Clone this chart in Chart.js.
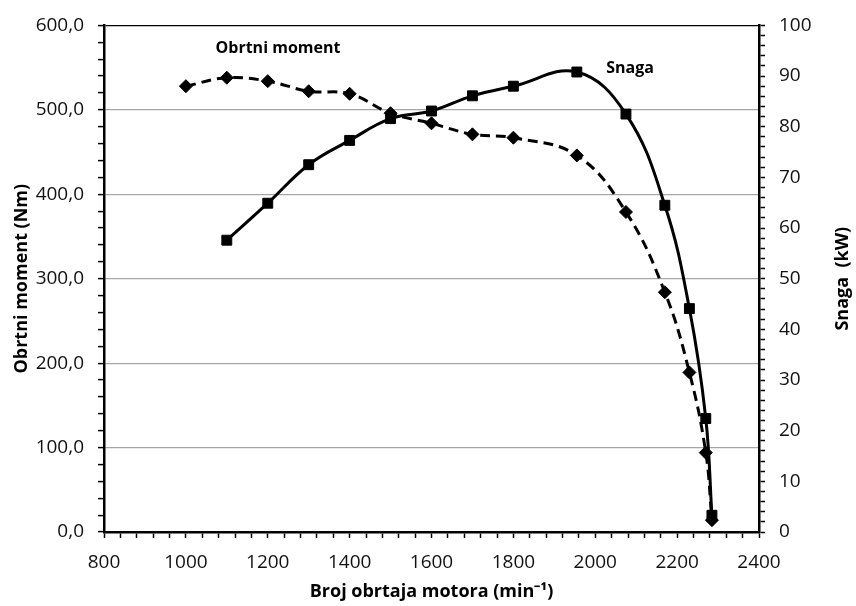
<!DOCTYPE html>
<html>
<head>
<meta charset="utf-8">
<script src="https://cdn.jsdelivr.net/npm/chart.js@4.4.0/dist/chart.umd.min.js"></script>
<style>
  html, body { margin: 0; padding: 0; background: #fff; }
  #wrap { width: 856px; height: 606px; }
</style>
</head>
<body>
<div id="wrap"><canvas id="myChart"></canvas></div>
<script>
// engine speed (min-1) and measured values
const rpmTorque = [1000, 1100, 1200, 1300, 1400, 1500, 1600, 1700, 1800, 1955, 2075, 2170, 2230, 2270, 2285];
const torque    = [528, 538, 534, 522, 519, 496, 484, 471, 467, 446, 379, 284, 189, 94, 14];
const rpmPower  = [1100, 1200, 1300, 1400, 1500, 1600, 1700, 1800, 1955, 2075, 2170, 2230, 2270, 2285];
const power     = [57.6, 64.9, 72.5, 77.3, 81.6, 83.1, 86.1, 88.0, 90.8, 82.5, 64.5, 44.1, 22.4, 3.3];

// curve names written next to the lines (rpm, value on own axis)
const curveNames = ['Obrtni moment', 'Snaga'];
const nameRpm = [1225, 2085];
const nameVal = [573, 91.6];

const powerTitle = 'Snaga  (kW)';

const toPoints = (xs, ys) => xs.map((x, i) => ({x: x, y: ys[i]}));

const tickFont = {family: '"Open Sans", sans-serif', size: 19};
const titleFont = {family: '"Open Sans", sans-serif', size: 18, weight: 'bold'};

const curveNamePlugin = {
  id: 'curveNames',
  afterDatasetsDraw(chart) {
    const {ctx, scales, chartArea} = chart;
    ctx.save();
    ctx.font = 'bold 16px "Open Sans", sans-serif';
    ctx.fillStyle = '#000';
    ctx.textAlign = 'center';
    ctx.textBaseline = 'middle';
    ctx.fillText(curveNames[0], scales.x.getPixelForValue(nameRpm[0]), scales.yT.getPixelForValue(nameVal[0]));
    ctx.fillText(curveNames[1], scales.x.getPixelForValue(nameRpm[1]), scales.yP.getPixelForValue(nameVal[1]));

    // right axis title reads bottom-to-top like the left one
    ctx.font = 'bold 18px "Open Sans", sans-serif';
    ctx.translate(scales.yP.right - 13, (chartArea.top + chartArea.bottom) / 2);
    ctx.rotate(-Math.PI / 2);
    ctx.fillText(powerTitle, 0, 0);
    ctx.restore();
  }
};

const ctx = document.getElementById('myChart');

new Chart(ctx, {
  type: 'line',
  data: {
    datasets: [{
      label: 'Obrtni moment',
      data: toPoints(rpmTorque, torque),
      yAxisID: 'yT',
      borderColor: '#000',
      backgroundColor: '#000',
      borderWidth: 3,
      borderDash: [10, 6],
      tension: 0.4,
      pointStyle: 'rectRot',
      pointRadius: 6.5,
      pointBorderWidth: 1
    },
    {
      label: 'Snaga',
      data: toPoints(rpmPower, power),
      yAxisID: 'yP',
      borderColor: '#000',
      backgroundColor: '#000',
      borderWidth: 3,
      tension: 0.4,
      pointStyle: 'rect',
      pointRadius: 7,
      pointBorderWidth: 1
    }]
  },
  options: {
    responsive: true,
    maintainAspectRatio: false,
    animation: false,
    layout: { padding: { top: 22, left: 0, right: 0, bottom: 0 } },
    plugins: {
      legend: { display: false },
      tooltip: { enabled: false }
    },
    scales: {
      x: {
        type: 'linear',
        min: 800,
        max: 2400,
        ticks: {
          stepSize: 40,
          autoSkip: false,
          maxRotation: 0,
          padding: 13,
          color: '#111',
          font: tickFont,
          callback: (v) => v % 200 === 0 ? v : ''
        },
        grid: {
          drawOnChartArea: false,
          tickLength: 6,
          tickColor: '#000',
          tickWidth: 1.5
        },
        border: { color: '#000', width: 2.5 },
        title: {
          display: true,
          text: 'Broj obrtaja motora (min⁻¹)',
          color: '#000',
          font: titleFont,
          padding: { top: 3, bottom: 3 }
        },
        afterFit: (s) => { s.height = 74; }
      },
      yT: {
        position: 'left',
        min: 0,
        max: 600,
        ticks: {
          stepSize: 20,
          autoSkip: false,
          padding: 14,
          color: '#111',
          font: tickFont,
          callback: (v) => v % 100 === 0 ? v.toFixed(1).replace('.', ',') : ''
        },
        grid: {
          color: (c) => {
            const v = c.tick ? c.tick.value : 0;
            if (v === 600) return '#000';
            if (v > 0 && v % 100 === 0) return '#a6a6a6';
            return 'rgba(0,0,0,0)';
          },
          lineWidth: 1.2,
          tickLength: 6,
          tickColor: '#000',
          tickWidth: 1.5
        },
        border: { color: '#000', width: 2.5 },
        title: {
          display: true,
          text: 'Obrtni moment (Nm)',
          color: '#000',
          font: titleFont,
          padding: { top: 11, bottom: 11 }
        },
        afterFit: (s) => { s.width = 104; }
      },
      yP: {
        position: 'right',
        min: 0,
        max: 100,
        ticks: {
          stepSize: 2,
          autoSkip: false,
          padding: 14,
          color: '#111',
          font: tickFont,
          callback: (v) => v % 10 === 0 ? v : ''
        },
        grid: {
          drawOnChartArea: false,
          tickLength: 6,
          tickColor: '#000',
          tickWidth: 1.5
        },
        border: { color: '#000', width: 2.5 },
        afterFit: (s) => { s.width = 97; }
      }
    }
  },
  plugins: [curveNamePlugin]
});
</script>
</body>
</html>
